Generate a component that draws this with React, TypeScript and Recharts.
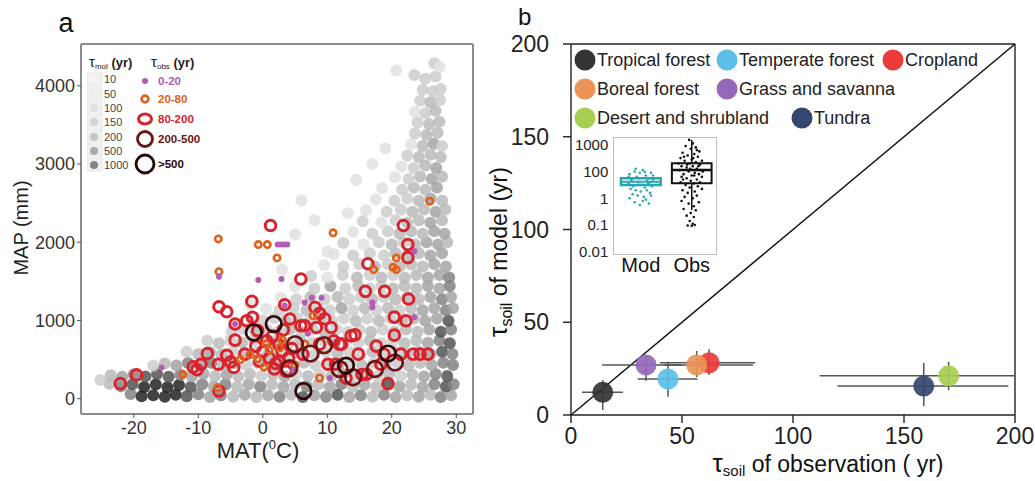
import React from 'react'
import { ScatterChart, Scatter, XAxis, YAxis, ReferenceLine, ReferenceArea, ErrorBar } from 'recharts'

const FONT = '"Liberation Sans", Arial, Helvetica, sans-serif'

// ---------- panel a data ----------
const matTicks = [-20, -10, 0, 10, 20, 30]
const mapTicks = [0, 1000, 2000, 3000, 4000]
const tauMolLabels = ['10', '50', '100', '150', '200', '500', '1000']
const tauObsLabels = ['0-20', '20-80', '80-200', '200-500', '>500']

// [MAT, MAP, tau_mol class 1..7]
const cloudPts: [number, number, number][] = [
  [-20.5,60,5],[-18.8,30,7],[-17,45,7],[-15.2,25,7],[-13.5,50,7],[-11.8,30,6],[-10,55,5],[-8.2,20,4],[-6.5,45,5],[-4.6,25,3],[-2.8,50,4],[-1,20,3],[0.8,45,4],[2.6,25,5],[4.4,50,3],[6.2,20,6],[8,45,4],[9.8,25,5],[11.6,50,6],[13.4,20,4],[15.2,45,5],[17,25,3],[18.8,50,5],[20.6,20,4],[22.4,45,3],[24.2,25,4],[26,50,3],[27.6,20,5],[29.2,45,4],
  [-23.8,190,3],[-22,160,5],[-20.2,185,6],[-18.4,150,7],[-16.6,180,7],[-14.8,145,7],[-13,175,7],[-11.2,150,6],[-9.4,185,5],[-7.6,155,4],[-5.8,180,5],[-4,150,3],[-2.2,185,4],[-0.4,155,5],[1.4,180,3],[3.2,150,4],[5,185,3],[6.8,155,5],[8.6,180,3],[10.4,150,4],[12.2,185,5],[14,155,3],[15.8,180,4],[17.6,150,3],[19.4,185,6],[21.2,155,4],[23,180,3],[24.8,150,4],[26.6,185,5],[28.4,155,6],[29.6,185,5],
  [-25.2,240,2],[-23.6,300,3],[-21.8,280,4],[-20,310,5],[-18.2,285,6],[-16.4,315,6],[-14.6,280,6],[-12.8,305,5],[-11,285,4],[-9.2,320,4],[-7.4,290,3],[-5.6,310,4],[-3.8,285,3],[-2,315,3],[-0.2,290,2],[1.6,310,3],[3.4,285,4],[5.2,315,2],[7,290,3],[8.8,310,2],[10.6,285,3],[12.4,315,4],[14.2,290,2],[16,310,3],[17.8,285,2],[19.6,315,3],[21.4,290,2],[23.2,310,3],[25,285,4],[26.8,315,5],[28.6,290,6],
  [-17,420,2],[-15.2,450,3],[-13.4,425,4],[-11.6,455,5],[-9.8,430,4],[-8,460,5],[-6.2,425,3],[-4.4,455,4],[-2.6,430,2],[-0.8,460,3],[1,425,2],[2.8,455,3],[4.6,430,2],[6.4,460,3],[8.2,425,2],[10,455,2],[11.8,430,3],[13.6,460,2],[15.4,425,3],[17.2,455,2],[19,430,3],[20.8,460,2],[22.6,425,3],[24.4,455,3],[26.2,430,4],[28,460,5],[29.5,430,5],
  [-11.8,600,2],[-10,570,3],[-8.2,595,4],[-6.4,565,3],[-4.6,600,2],[-2.8,570,3],[-1,600,2],[0.8,565,3],[2.6,600,2],[4.4,570,2],[6.2,600,3],[8,565,2],[9.8,600,2],[11.6,570,3],[13.4,600,2],[15.2,565,2],[17,600,3],[18.8,570,2],[20.6,600,2],[22.4,565,3],[24.2,600,3],[26,570,4],[27.8,600,6],[29.4,570,5],
  [-8.6,740,2],[-6.8,710,3],[-5,745,2],[-3.2,715,3],[-1.4,745,2],[0.4,710,2],[2.2,740,3],[4,710,2],[5.8,745,3],[7.6,715,2],[9.4,745,2],[11.2,710,3],[13,745,2],[14.8,715,2],[16.6,745,3],[18.4,710,2],[20.2,740,2],[22,710,3],[23.8,745,3],[25.6,715,4],[27.4,745,5],[29,710,6],
  [-4.8,860,2],[-3,890,2],[-1.2,855,3],[0.6,885,2],[2.4,855,2],[4.2,885,3],[6,855,2],[7.8,885,2],[9.6,855,3],[11.4,885,2],[13.2,855,2],[15,885,2],[16.8,855,3],[18.6,885,2],[20.4,855,3],[22.2,885,3],[24,855,3],[25.8,885,4],[27.6,855,6],[29.2,885,5],
  [-1.8,1010,1],[0,1000,2],[1.8,1030,2],[3.6,995,3],[5.4,1025,2],[7.2,995,2],[9,1025,3],[10.8,995,2],[12.6,1025,2],[14.4,995,3],[16.2,1025,2],[18,995,3],[19.8,1025,2],[21.6,995,3],[23.4,1025,3],[25.2,995,4],[27,1025,4],[28.8,995,6],
  [0.5,1150,1],[2.6,1130,2],[4.8,1160,2],[6.8,1130,3],[8.6,1160,2],[10.4,1130,2],[12.2,1160,4],[14,1130,2],[15.8,1160,3],[17.6,1130,2],[19.4,1160,3],[21.2,1130,2],[23,1160,3],[24.8,1130,4],[26.6,1160,4],[28.4,1130,5],[29.5,1160,4],
  [2.8,1290,1],[5.2,1270,2],[7.4,1300,3],[9.6,1270,2],[11.6,1300,3],[13.4,1270,2],[15.2,1300,2],[17,1270,3],[18.8,1300,2],[20.6,1270,3],[22.4,1300,3],[24.2,1270,3],[26,1300,4],[27.8,1270,5],[29.2,1300,4],
  [5,1430,1],[8,1410,2],[10.5,1440,4],[12.8,1410,2],[14.8,1440,3],[16.6,1410,2],[18.4,1440,2],[20.2,1410,3],[22,1440,3],[23.8,1410,3],[25.6,1440,4],[27.4,1410,4],[29,1440,5],
  [7.5,1570,2],[10,1550,1],[12.4,1580,2],[14.6,1550,3],[16.6,1580,2],[18.4,1550,3],[20.2,1580,2],[22,1550,3],[23.8,1580,3],[25.6,1550,4],[27.4,1580,4],[28.9,1550,5],
  [9.5,1710,1],[12.5,1690,2],[15,1720,2],[17.4,1690,3],[19.4,1720,2],[21.2,1690,3],[23,1720,3],[24.8,1690,3],[26.6,1720,4],[28.4,1690,4],
  [11,1850,1],[14,1830,2],[16.6,1860,2],[18.8,1830,2],[20.6,1860,3],[22.4,1830,3],[24.2,1860,3],[26,1830,4],[27.8,1860,4],
  [12.5,1990,2],[15.6,1970,1],[18,2000,2],[20,1970,3],[21.8,2000,2],[23.6,1970,3],[25.4,2000,4],[27.2,1970,4],[28.6,2000,3],
  [14,2130,1],[17,2110,2],[19.4,2140,2],[21.2,2110,3],[23,2140,3],[24.8,2110,3],[26.6,2140,4],[28.2,2110,4],
  [15.5,2270,2],[18.4,2250,1],[20.6,2280,2],[22.4,2250,3],[24.2,2280,3],[26,2250,4],[27.8,2280,3],
  [16,2410,1],[19.2,2390,2],[21.4,2420,2],[23.2,2390,3],[25,2420,3],[26.8,2390,4],[28.3,2420,3],
  [17.5,2550,1],[20.4,2530,2],[22.4,2560,2],[24.2,2530,3],[26,2560,4],[27.8,2530,3],
  [18.5,2690,1],[21.6,2670,2],[23.4,2700,3],[25.2,2670,3],[27,2700,4],
  [20.5,2830,1],[22.6,2810,2],[24.4,2840,3],[26.2,2810,4],[27.8,2840,3],
  [21.5,2970,1],[23.4,2950,2],[25.2,2980,3],[26.9,2950,4],
  [22.4,3110,2],[24.2,3090,3],[26,3120,3],[27.6,3090,3],
  [23,3250,1],[24.8,3230,3],[26.5,3260,4],[27.8,3230,2],
  [23.6,3390,2],[25.4,3370,3],[27.1,3400,3],
  [24,3530,2],[25.8,3510,3],[27.4,3540,3],
  [23.6,3670,1],[25.2,3650,2],[26.8,3680,3],
  [24.4,3810,2],[26,3790,3],[27.5,3820,2],
  [24.8,3950,2],[26.4,3930,2],[27.6,3960,2],
  [20.7,4200,1],[23.5,4140,2],[25.2,4090,2],[26.8,4120,2],
  [26.6,4290,2],[27.4,4240,1],
  [6,2535,1],[13.2,2370,1],[8,2280,1],[10,1880,1],[3,1650,1],[-2,1200,1],[5,2100,1],[14.5,2800,1],[17,3000,1],[19,3200,1],
]

const obsPurple: [number, number][] = [
  [2.3,1970],[2.8,1970],[3.3,1970],[3.8,1970],[-15.7,398],[-6.8,1560],[-0.7,1517],[2.9,1530],[17.0,1230],[17.0,1170],
  [23.5,1040],[23.5,1885],[4.7,370],[10.4,265],[6.5,1230],[7.6,1290],[9.1,1290],[3.4,1190],[7.0,830],[-4.3,954],
]
const obsOrange: [number, number][] = [
  [-6.9,2043],[-0.7,1970],[0.7,1970],[2.2,1800],[-6.8,1624],[-12.4,310],[17.2,1650],[20.2,1680],[20.7,1650],[20.7,1800],
  [8.8,265],[1,620],[-0.8,510],[0.2,405],[2.6,650],[10.9,2120],[25.9,2525],[7.8,1060],[-7,140],[5,430],[-3.5,500],
  [6.5,700],[3,750],[-2,560],[0.5,700],
]
const obsRed: [number, number][] = [
  [-22.1,192],[-19.6,304],[-10.8,406],[-9.6,440],[-10.2,370],[-8.6,577],[-6.8,1176],[-5.6,1111],[-6.8,99],[-4.3,748],
  [-4.3,954],[-2.5,996],[-1.7,1244],[-2.8,569],[-1.6,1040],[-5.6,555],[-5,470],[-4.5,400],[-6.9,440],[0.6,740],
  [1.5,800],[2.5,690],[3.2,880],[-0.8,870],[-1.1,672],[4.2,1018],[5.9,932],[6.2,569],[8.1,1167],[8.8,1090],
  [9.6,1020],[10.6,910],[5.9,1530],[3.4,1201],[11.9,697],[13.7,805],[11.3,440],[12.9,265],[14.8,569],[15.9,1372],
  [16.3,1726],[17.6,672],[18.9,1372],[20.4,812],[20.4,1043],[22.2,996],[22.6,1274],[22.5,1803],[22.5,1970],[21.8,2214],
  [1.2,2214],[21.4,569],[23.3,569],[24.4,569],[25.6,569],[19.4,192],[15.4,310],[18.8,569],[18.3,440],[8.8,697],
  [2.6,480],[3.6,350],[8.3,910],[11.0,740],[14.3,816],[12.2,697],[10.1,441],[16.1,313],[6.5,932],[0,600],
  [1,520],[2,450],[-0.5,480],[3,600],[4,520],[1.8,380],[4.5,640],
]
const obsDarkRed: [number, number][] = [
  [5.0,697],[7.4,577],[9.5,684],[4.1,389],[11.9,380],[14.0,274],[17.4,380],[20.5,462],
]
const obsBlack: [number, number][] = [
  [-1.4,846],[1.7,954],[6.3,99],[19.4,577],[12.9,423],
]

// ---------- panel b data ----------
const biomes = ['Tropical forest', 'Temperate forest', 'Cropland', 'Boreal forest', 'Grass and savanna', 'Desert and shrubland', 'Tundra']
const obsMean = [14.3, 43.7, 62.2, 56.6, 33.8, 170.1, 158.9]
const obsLow = [5, 30, 40, 42, 14, 112, 120]
const obsHigh = [23.4, 57, 83, 82, 50, 200, 197]
const modMean = [12.2, 19.4, 28.1, 27.0, 27.0, 21.1, 15.6]
const modLow = [2.7, 9.8, 21.5, 20.5, 18.5, 13.4, 4.8]
const modHigh = [18.8, 28.7, 35.5, 34.5, 32.0, 28.7, 28.0]
const axisTicksB = [0, 50, 100, 150, 200]

// inset (log-ish axis, tick labels spaced evenly as in the figure)
const insetTickLabels = ['0.01', '0.1', '1', '100', '1000']
const insetGroups = ['Mod', 'Obs']
const modBox = { q1: 2.5, median: 2.62, q3: 2.75, low: 2.2, high: 3.05 }
const obsBox = { q1: 2.56, median: 3.06, q3: 3.31, low: 1.56, high: 4.18 }
const modJitter: [number, number][] = [
  [-0.22,2.9],[-0.18,2.7],[-0.12,3.0],[-0.08,2.8],[-0.02,2.95],[0.04,3.05],[0.1,2.85],[0.16,2.75],[0.2,2.95],[0.24,2.7],
  [-0.24,2.55],[-0.15,2.45],[-0.05,2.6],[0.02,2.5],[0.08,2.4],[0.14,2.55],[0.22,2.45],[-0.2,2.35],[-0.1,2.3],[0.0,2.25],
  [0.12,2.3],[0.18,2.2],[-0.16,2.15],[-0.06,2.1],[0.06,2.05],[0.2,2.1],[-0.22,2.0],[0.1,1.95],[-0.12,1.85],[0.16,1.8],
  [-0.02,1.75],[0.04,1.9],[-0.18,2.65],[0.12,2.65],[-0.04,2.75],[0.24,2.85],[-0.1,3.1],[0.08,2.98],[-0.24,2.8],[0.18,2.6],
]
const obsJitter: [number, number][] = [
  [-0.05,4.18],[0.02,4.05],[-0.12,3.95],[0.08,3.9],[-0.02,3.85],[0.15,3.75],[-0.18,3.7],[0.05,3.65],[-0.08,3.6],[0.12,3.55],
  [-0.22,3.5],[0.0,3.45],[0.2,3.4],[-0.14,3.4],[0.08,3.35],[-0.04,3.3],[0.16,3.25],[-0.2,3.2],[0.02,3.2],[-0.1,3.15],
  [0.1,3.1],[-0.24,3.05],[0.18,3.05],[-0.06,3.0],[0.06,2.95],[-0.16,2.9],[0.14,2.9],[0.0,2.85],[-0.2,2.8],[0.2,2.8],
  [-0.1,2.75],[0.1,2.7],[-0.02,2.65],[-0.22,2.6],[0.16,2.6],[0.04,2.55],[-0.12,2.5],[0.12,2.45],[-0.04,2.4],[0.2,2.35],
  [-0.18,2.3],[0.06,2.25],[-0.08,2.2],[0.1,2.1],[-0.14,2.05],[0.02,2.0],[-0.2,1.9],[0.14,1.85],[-0.06,1.8],[0.04,1.7],
  [-0.16,1.6],[0.08,1.55],[-0.02,1.45],[-0.1,1.35],[0.04,1.3],[-0.04,1.15],[0.02,1.05],[-0.08,0.98],[0.0,0.97],[0.06,1.0],
  [-0.26,3.3],[0.22,3.0],[-0.15,3.55],[0.1,3.8],[-0.09,3.25],[0.05,2.85],[-0.03,3.1],[0.13,3.2],[-0.17,2.7],[0.03,3.5],
]

// ---------- styles ----------
const grays = ['#e0e0e0', '#cdcdcd', '#bababa', '#a4a4a4', '#838383', '#545454', '#222222']
const legendGrays = ['#f4f4f4', '#ececec', '#e0e0e0', '#d4d4d4', '#c6c6c6', '#a9a9a9', '#858585']
const obsColors = ['#b35bb6', '#e0601c', '#d9222b', '#6b1515', '#2a0505']
const biomeColors: Record<string, string> = {
  'Tropical forest': '#333333',
  'Temperate forest': '#5bbfe9',
  'Cropland': '#ec3b3b',
  'Boreal forest': '#ec9257',
  'Grass and savanna': '#9568b8',
  'Desert and shrubland': '#a6cf50',
  'Tundra': '#35476f',
}

const cloudData = cloudPts.map(([mat, map, lvl]) => ({ mat, map, lvl }))
const toXY = (arr: [number, number][]) => arr.map(([mat, map]) => ({ mat, map }))

const biomeData = biomes.map((name, i) => ({
  name,
  x: obsMean[i],
  y: modMean[i],
  ex: [obsMean[i] - obsLow[i], obsHigh[i] - obsMean[i]],
  ey: [modMean[i] - modLow[i], modHigh[i] - modMean[i]],
}))

const modPts = modJitter.map(([dx, p]) => ({ g: 1 + dx, p }))
const obsPts = obsJitter.map(([dx, p]) => ({ g: 2 + dx, p }))

const CloudDot = (props: any) => (
  <circle cx={props.cx} cy={props.cy} r={6} fill={grays[props.payload.lvl - 1]} fillOpacity={0.85} />
)
const ring = (r: number, color: string, w: number) => (props: any) => (
  <circle cx={props.cx} cy={props.cy} r={r} fill="none" stroke={color} strokeWidth={w} />
)
const dot = (r: number, color: string) => (props: any) => (
  <circle cx={props.cx} cy={props.cy} r={r} fill={color} />
)

function PanelA() {
  return (
    <ScatterChart width={500} height={481} margin={{ top: 44, right: 27, bottom: 0, left: 0 }}>
      <XAxis
        type="number" dataKey="mat" domain={[-28.2, 32.6]} ticks={matTicks} allowDataOverflow height={67}
        axisLine={{ stroke: '#8c8c8c', strokeWidth: 2 }} tickLine={{ stroke: '#555' }} tickSize={4} tickMargin={3}
        tick={{ fill: '#333', fontSize: 18, fontFamily: FONT }}
      />
      <YAxis
        type="number" dataKey="map" domain={[-196, 4535]} ticks={mapTicks} allowDataOverflow width={81}
        axisLine={{ stroke: '#8c8c8c', strokeWidth: 2 }} tickLine={{ stroke: '#555' }} tickSize={4} tickMargin={2}
        tick={{ fill: '#333', fontSize: 18, fontFamily: FONT }}
      />
      <ReferenceLine y={4535} stroke="#8c8c8c" strokeWidth={2} ifOverflow="visible" />
      <ReferenceLine x={32.6} stroke="#8c8c8c" strokeWidth={2} ifOverflow="visible" />
      <Scatter data={cloudData} shape={CloudDot} isAnimationActive={false} />
      <Scatter data={toXY(obsRed)} shape={ring(5.3, obsColors[2], 3)} isAnimationActive={false} />
      <Scatter data={toXY(obsOrange)} shape={ring(3.2, obsColors[1], 2.6)} isAnimationActive={false} />
      <Scatter data={toXY(obsPurple)} shape={dot(3, obsColors[0])} isAnimationActive={false} />
      <Scatter data={toXY(obsDarkRed)} shape={ring(7.8, obsColors[3], 2.7)} isAnimationActive={false} />
      <Scatter data={toXY(obsBlack)} shape={ring(7.8, obsColors[4], 2.7)} isAnimationActive={false} />
    </ScatterChart>
  )
}

function PanelB() {
  const tick = { fill: '#222', fontSize: 23, fontFamily: FONT }
  return (
    <ScatterChart width={535} height={481} margin={{ top: 44, right: 20, bottom: 0, left: 0 }}>
      <XAxis
        type="number" dataKey="x" domain={[0, 200]} ticks={axisTicksB} allowDataOverflow height={66}
        axisLine={{ stroke: '#222', strokeWidth: 1.4 }} tickLine={{ stroke: '#222', strokeWidth: 1.4 }}
        tickSize={8} tickMargin={5} tick={tick}
      />
      <YAxis
        type="number" dataKey="y" domain={[0, 200]} ticks={axisTicksB} allowDataOverflow width={71}
        axisLine={{ stroke: '#222', strokeWidth: 1.4 }} tickLine={{ stroke: '#222', strokeWidth: 1.4 }}
        tickSize={8} tickMargin={14} tick={tick}
      />
      <ReferenceLine y={200} stroke="#222" strokeWidth={1.4} ifOverflow="visible" />
      <ReferenceLine x={200} stroke="#222" strokeWidth={1.4} ifOverflow="visible" />
      <ReferenceLine segment={[{ x: 0, y: 0 }, { x: 200, y: 200 }]} stroke="#111" strokeWidth={1.5} ifOverflow="visible" />
      {biomeData.map((b) => (
        <Scatter
          key={b.name}
          data={[b]}
          shape={(p: any) => <circle cx={p.cx} cy={p.cy} r={10.5} fill={biomeColors[b.name]} fillOpacity={0.92} />}
          isAnimationActive={false}
        />
      ))}
      <Scatter data={biomeData} shape={() => <g />} isAnimationActive={false}>
        <ErrorBar dataKey="ex" direction="x" width={0} stroke="#555" strokeWidth={1.5} />
        <ErrorBar dataKey="ey" direction="y" width={0} stroke="#555" strokeWidth={1.5} />
      </Scatter>
    </ScatterChart>
  )
}

function Inset() {
  return (
    <div style={{ position: 'relative', width: 170, height: 160 }}>
      <div
        style={{
          position: 'absolute', left: 53.3, top: 6.7, width: 103.4, height: 118.3,
          background: '#fff', border: '1.2px solid #bdbdbd', boxSizing: 'border-box',
        }}
      />
      <div style={{ position: 'absolute', left: 0, top: 0 }}>
        <ScatterChart width={170} height={160} margin={{ top: 6.7, right: 13.3, bottom: 0, left: 0 }}>
          <XAxis
            type="number" dataKey="g" domain={[0.46, 2.49]} ticks={[1, 2]} allowDataOverflow height={35}
            axisLine={false} tickLine={false} tickSize={0} tickMargin={3}
            tickFormatter={(v: number) => insetGroups[v - 1]}
            tick={{ fill: '#111', fontSize: 20, fontFamily: FONT }}
          />
          <YAxis
            type="number" dataKey="p" domain={[-0.12, 4.3]} ticks={[0, 1, 2, 3, 4]} allowDataOverflow width={53.3}
            axisLine={false} tickLine={false} tickSize={0} tickMargin={5}
            tickFormatter={(v: number) => insetTickLabels[v]}
            tick={{ fill: '#222', fontSize: 15, fontFamily: FONT }}
          />
          <Scatter data={modPts} shape={dot(1.3, '#25a8b2')} isAnimationActive={false} />
          <Scatter data={obsPts} shape={dot(1.3, '#111')} isAnimationActive={false} />
          <ReferenceLine segment={[{ x: 2, y: obsBox.low }, { x: 2, y: obsBox.q1 }]} stroke="#111" strokeWidth={1.5} />
          <ReferenceLine segment={[{ x: 2, y: obsBox.q3 }, { x: 2, y: obsBox.high }]} stroke="#111" strokeWidth={1.5} />
          <ReferenceArea x1={0.61} x2={1.39} y1={modBox.q1} y2={modBox.q3} fill="none" stroke="#25a8b2" strokeWidth={2.5} fillOpacity={0} />
          <ReferenceLine segment={[{ x: 0.61, y: modBox.median }, { x: 1.39, y: modBox.median }]} stroke="#25a8b2" strokeWidth={2} />
          <ReferenceArea x1={1.61} x2={2.39} y1={obsBox.q1} y2={obsBox.q3} fill="none" stroke="#111" strokeWidth={2} fillOpacity={0} />
          <ReferenceLine segment={[{ x: 1.61, y: obsBox.median }, { x: 2.39, y: obsBox.median }]} stroke="#111" strokeWidth={2.5} />
        </ScatterChart>
      </div>
    </div>
  )
}

function Overlay() {
  const molY = [79, 94, 108, 122, 137, 151, 165]
  const obsY = [81, 99, 119, 139, 164]
  const obsR = [3, 3.4, 5.6, 7.5, 9]
  const obsW = [0, 2.6, 3, 2.8, 2.8]
  const legB: { name: string; cx: number; cy: number }[] = [
    { name: 'Tropical forest', cx: 585, cy: 60 },
    { name: 'Temperate forest', cx: 727, cy: 60 },
    { name: 'Cropland', cx: 893, cy: 60 },
    { name: 'Boreal forest', cx: 585, cy: 89 },
    { name: 'Grass and savanna', cx: 727, cy: 89 },
    { name: 'Desert and shrubland', cx: 585, cy: 118 },
    { name: 'Tundra', cx: 802, cy: 118 },
  ]
  return (
    <svg
      width={1035} height={481}
      style={{ position: 'absolute', left: 0, top: 0, pointerEvents: 'none', fontFamily: FONT }}
    >
      <text x={66} y={32} fontSize={27} textAnchor="middle" fill="#111">a</text>
      <text x={518} y={25} fontSize={24} fill="#111">b</text>

      {/* panel a axis titles */}
      <text transform="translate(28,228) rotate(-90)" fontSize={20} textAnchor="middle" fill="#222">MAP (mm)</text>
      <text x={258} y={458} fontSize={22} textAnchor="middle" fill="#222">
        MAT(<tspan fontSize={13} dy={-9}>0</tspan><tspan dy={9}>C)</tspan>
      </text>

      {/* panel a legend */}
      <rect x={87} y={72} width={16} height={100} fill="#efefef" />
      <text x={89} y={67} fontSize={13} fontWeight="bold" fill="#222">
        <tspan fontSize={15} fontWeight="normal">τ</tspan><tspan fontSize={8} dy={2} fontWeight="normal">mol</tspan><tspan dy={-2}> (yr)</tspan>
      </text>
      <text x={151} y={67} fontSize={13} fontWeight="bold" fill="#222">
        <tspan fontSize={15} fontWeight="normal">τ</tspan><tspan fontSize={8} dy={2} fontWeight="normal">obs</tspan><tspan dy={-2}> (yr)</tspan>
      </text>
      {tauMolLabels.map((l, i) => (
        <g key={l}>
          <circle cx={94} cy={molY[i]} r={4} fill={legendGrays[i]} />
          <text x={104} y={molY[i] + 4} fontSize={11} fill="#444">{l}</text>
        </g>
      ))}
      {tauObsLabels.map((l, i) => (
        <g key={l}>
          {i === 0 ? (
            <circle cx={145} cy={obsY[i]} r={obsR[i]} fill={obsColors[i]} />
          ) : i === 2 ? (
            <ellipse cx={145} cy={obsY[i]} rx={6.5} ry={5} fill="none" stroke={obsColors[i]} strokeWidth={obsW[i]} />
          ) : (
            <circle cx={145} cy={obsY[i]} r={obsR[i]} fill="none" stroke={obsColors[i]} strokeWidth={obsW[i]} />
          )}
          <text x={158} y={obsY[i] + 4} fontSize={11.5} fontWeight="bold" fill={obsColors[i]}>{l}</text>
        </g>
      ))}

      {/* panel b axis titles */}
      <text transform="translate(507,252) rotate(-90)" fontSize={23} textAnchor="middle" fill="#111">
        <tspan fontSize={26}>τ</tspan><tspan fontSize={16} dy={5}>soil</tspan><tspan dy={-5}>  of model (yr)</tspan>
      </text>
      <text x={828} y={472} fontSize={23} textAnchor="middle" fill="#111">
        <tspan fontSize={26}>τ</tspan><tspan fontSize={15} dy={4}>soil</tspan><tspan dy={-4}> of observation ( yr)</tspan>
      </text>

      {/* panel b legend */}
      {legB.map((b) => (
        <g key={b.name}>
          <circle cx={b.cx} cy={b.cy} r={10.5} fill={biomeColors[b.name]} />
          <text x={b.cx + 12} y={b.cy + 6} fontSize={18} fill="#222">{b.name}</text>
        </g>
      ))}
    </svg>
  )
}

export default function App() {
  return (
    <div style={{ position: 'absolute', left: 0, top: 0, width: 1035, height: 481, background: '#fff', fontFamily: FONT }}>
      <div style={{ position: 'absolute', left: 0, top: 0 }}>
        <PanelA />
      </div>
      <div style={{ position: 'absolute', left: 500, top: 0 }}>
        <PanelB />
      </div>
      <div style={{ position: 'absolute', left: 560, top: 130 }}>
        <Inset />
      </div>
      <Overlay />
    </div>
  )
}
